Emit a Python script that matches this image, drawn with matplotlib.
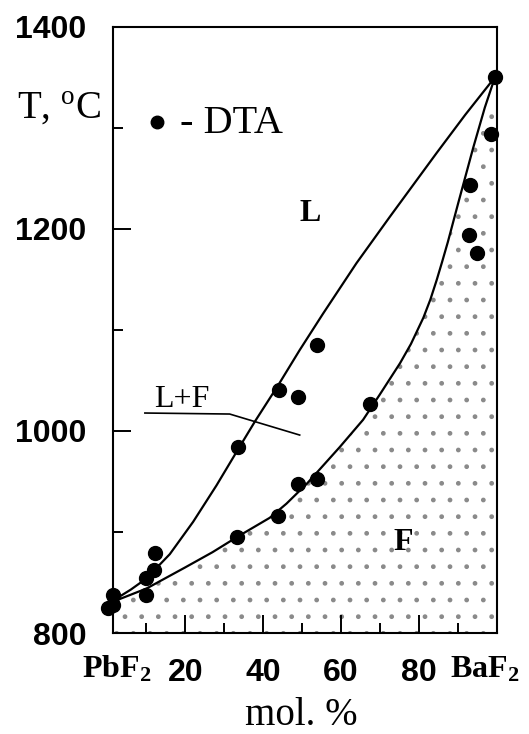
import matplotlib
matplotlib.use("Agg")
import matplotlib.pyplot as plt

plt.rcParams['mathtext.fontset'] = 'custom'
plt.rcParams['mathtext.rm'] = 'Liberation Serif'
plt.rcParams['mathtext.bf'] = 'Liberation Serif:bold'
plt.rcParams['hatch.linewidth'] = 1.0

# DTA points, mol.% BaF2 vs temperature
x_dta = [0, 1.4, 1.4, 10, 10, 11.9, 12.1, 33.3, 33.6, 43.9, 44.0,
         49.0, 49.0, 53.9, 53.9, 67.6, 93.0, 93.2, 95.0, 98.5, 99.6]
t_dta = [825, 828, 838, 838, 854, 862, 879, 895, 984, 916, 1040,
         947, 1034, 952, 1085, 1027, 1194, 1243, 1176, 1294, 1350]

# liquidus
liq_x = [1.4, 6, 10, 16, 22, 28, 33.6, 38, 44, 49.4, 55.4, 64, 72.6, 84.6, 92, 99.6]
liq_t = [832, 843, 854, 878, 910, 946, 982, 1010, 1046, 1080, 1116, 1166, 1212,
         1275, 1313, 1350]

# solidus
sol_x = [1.4, 10, 20, 27, 33.3, 41.7, 46, 51.3, 59.7, 65.7, 70, 75.2, 78,
         81.2, 83, 84.6, 86, 87.5, 90.2, 94, 97, 99.6]
sol_t = [831, 844, 865, 880, 895, 914, 928, 948, 984, 1011, 1036, 1067, 1086,
         1112, 1130, 1149, 1167, 1187, 1226, 1280, 1320, 1350]

xticks = [20, 40, 60, 80]
yticks = [800, 1000, 1200, 1400]

fig = plt.figure(figsize=(5.29, 7.34), dpi=100)
ax = fig.add_axes([0.2136, 0.1376, 0.7264, 0.826])

# stippled F region below the solidus
fx = sol_x + [100.2, 100.2, 1.4]
ft = sol_t + [1350, 800, 800]
ax.fill(fx, ft, facecolor='none', edgecolor='#8a8a8a', linewidth=0, hatch='.')

ax.plot(liq_x, liq_t, color='black', lw=1.6)
ax.plot(sol_x, sol_t, color='black', lw=1.6)
ax.plot(x_dta, t_dta, 'o', color='black', ms=10, clip_on=False, zorder=5)

ax.set_xlim(1.4, 100.2)
ax.set_ylim(800, 1400)

ax.set_xticks(xticks)
ax.set_xticks([10, 30, 50, 70, 90], minor=True)
ax.set_yticks(yticks)
ax.set_yticks([900, 1100, 1300], minor=True)
ax.tick_params(which='both', direction='in', width=1.4, labelsize=23)
ax.tick_params(which='major', length=13)
ax.tick_params(which='minor', length=7.5)
ax.tick_params(axis='x', pad=18)
ax.tick_params(axis='y', pad=19)
for lab in ax.get_xticklabels() + ax.get_yticklabels():
    lab.set_fontfamily('Liberation Sans')
    lab.set_fontweight('bold')
for s in ax.spines.values():
    s.set_linewidth(1.5)

# end members
ax.text(-6.6, 755.5, r'$\mathbf{PbF_2}$', ha='left', va='baseline', fontsize=23,
        clip_on=False)
ax.text(88.0, 755.5, r'$\mathbf{BaF_2}$', ha='left', va='baseline', fontsize=23,
        clip_on=False)

fig.text(0.57, 0.012, 'mol. %', ha='center', va='baseline', fontsize=28,
         family='Liberation Serif')
fig.text(0.032, 0.839, r'T, $^{\rm o}$C', ha='left', va='baseline', fontsize=28,
         family='Liberation Serif')

# legend mark
ax.plot([12.7], [1306], 'o', color='black', ms=9)
ax.text(18.6, 1294.5, '- DTA', ha='left', va='baseline', fontsize=29,
        family='Liberation Serif')

# phase fields
ax.text(52.0, 1215, 'L', ha='center', va='center', fontsize=23,
        family='Liberation Serif', fontweight='bold')
ax.text(76.0, 890, 'F', ha='center', va='center', fontsize=23,
        family='Liberation Serif', fontweight='bold')
ax.text(19.0, 1031, 'L+F', ha='center', va='center', fontsize=23,
        family='Liberation Serif')
ax.plot([9.6, 31.4, 49.4], [1017.7, 1016.7, 995.9], color='black', lw=1.2)

fig.savefig('out.png', dpi=100)
